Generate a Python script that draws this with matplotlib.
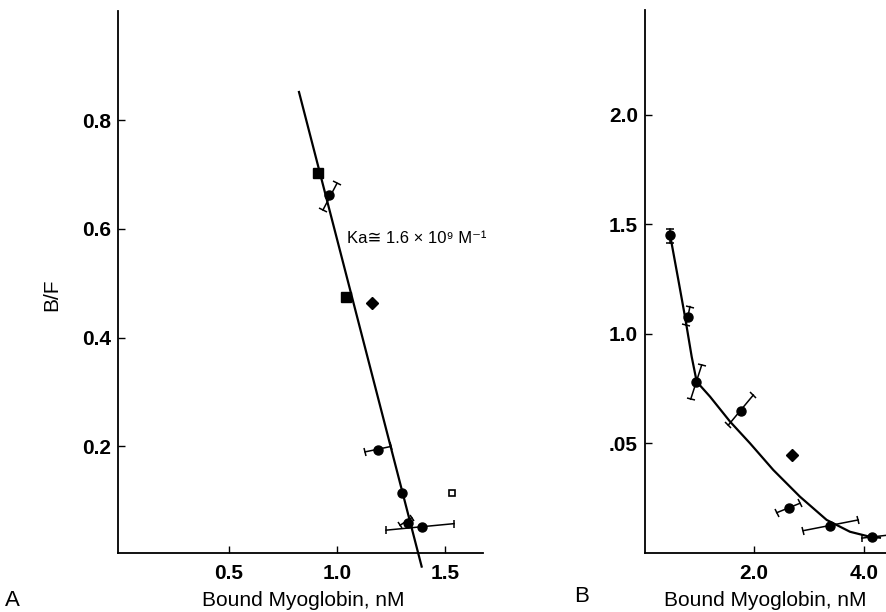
import numpy as np
import matplotlib
matplotlib.use('Agg')
import matplotlib.pyplot as plt
from matplotlib.markers import MarkerStyle
from matplotlib.transforms import Affine2D

plt.rcParams['font.family'] = ['Liberation Sans', 'DejaVu Sans']

# ---- Panel A data (Scatchard plot) ----
a_sq_x = [0.912, 1.042]
a_sq_y = [0.703, 0.475]
a_dia_x = [1.160]
a_dia_y = [0.463]
a_circ_x = [0.964, 1.191, 1.299, 1.327, 1.392]
a_circ_y = [0.662, 0.194, 0.115, 0.059, 0.052]
a_open_x = [1.531]
a_open_y = [0.115]
# error bar end points (x_lo, y_lo, x_hi, y_hi)
a_err_x_lo = [0.935, 1.130, 1.292, 1.227]
a_err_y_lo = [0.635, 0.190, 0.055, 0.046]
a_err_x_hi = [1.000, 1.250, 1.346, 1.542]
a_err_y_hi = [0.684, 0.200, 0.069, 0.058]
a_fit_x = [0.824, 1.392]
a_fit_y = [0.852, -0.021]
a_xticks = [0.5, 1.0, 1.5]
a_xticklabels = ['0.5', '1.0', '1.5']
a_yticks = [0.2, 0.4, 0.6, 0.8]
a_yticklabels = ['0.2', '0.4', '0.6', '0.8']

# ---- Panel B data ----
b_circ_x = [0.473, 0.806, 0.945, 1.764, 2.636, 3.382, 4.14]
b_circ_y = [1.452, 1.076, 0.782, 0.650, 0.207, 0.125, 0.075]
b_dia_x = [2.697]
b_dia_y = [0.447]
b_err_x_lo = [0.473, 0.764, 0.849, 1.533, 2.413, 2.896, 3.96]
b_err_y_lo = [1.416, 1.041, 0.702, 0.584, 0.184, 0.102, 0.068]
b_err_x_hi = [0.473, 0.836, 1.049, 1.987, 2.836, 3.896, 4.45]
b_err_y_hi = [1.479, 1.125, 0.858, 0.721, 0.227, 0.151, 0.082]
b_curve_x = [0.473, 0.491, 0.624, 0.745, 0.867, 0.958, 1.2, 1.564, 1.927,
             2.351, 2.836, 3.321, 3.745, 4.109, 4.29]
b_curve_y = [1.452, 1.429, 1.247, 1.079, 0.896, 0.782, 0.714, 0.600, 0.501,
             0.379, 0.257, 0.151, 0.097, 0.074, 0.070]
b_xticks = [2.0, 4.0]
b_xticklabels = ['2.0', '4.0']
b_yticks = [0.5, 1.0, 1.5, 2.0]
b_yticklabels = ['.05', '1.0', '1.5', '2.0']

W, H = 886, 612
fig = plt.figure(figsize=(W / 100, H / 100), dpi=100)
axA = fig.add_axes([118 / W, 59 / H, 365 / W, 542 / H])
axB = fig.add_axes([645 / W, 59 / H, 241 / W, 543 / H])


def style_axes(ax, xlim, ylim, xt, xtl, yt, ytl):
    ax.set_xlim(*xlim)
    ax.set_ylim(*ylim)
    for s in ['top', 'right']:
        ax.spines[s].set_visible(False)
    for s in ['left', 'bottom']:
        ax.spines[s].set_linewidth(1.3)
    ax.set_xticks(xt)
    ax.set_xticklabels(xtl)
    ax.set_yticks(yt)
    ax.set_yticklabels(ytl)
    ax.tick_params(axis='both', direction='in', length=5, width=1.0,
                   labelsize=15)
    ax.tick_params(axis='x', pad=8)
    ax.tick_params(axis='y', pad=5)
    for lab in ax.get_xticklabels() + ax.get_yticklabels():
        lab.set_fontweight('bold')


def err_bars(ax, xl, yl, xh, yh):
    for x0, y0, x1, y1 in zip(xl, yl, xh, yh):
        ax.plot([x0, x1], [y0, y1], color='black', lw=1.1)
        p0 = ax.transData.transform((x0, y0))
        p1 = ax.transData.transform((x1, y1))
        ang = np.degrees(np.arctan2(p1[1] - p0[1], p1[0] - p0[0]))
        cap = MarkerStyle('|', transform=Affine2D().rotate_deg(ang))
        ax.plot([x0, x1], [y0, y1], linestyle='none', marker=cap,
                markersize=6, mew=1.1, color='black')


# Panel A
style_axes(axA, (-0.014, 1.676), (0.004, 1.001),
           a_xticks, a_xticklabels, a_yticks, a_yticklabels)
axA.plot(a_fit_x, a_fit_y, color='black', lw=1.6, clip_on=False)
err_bars(axA, a_err_x_lo, a_err_y_lo, a_err_x_hi, a_err_y_hi)
axA.plot(a_sq_x, a_sq_y, 's', color='black', ms=6.5)
axA.plot(a_dia_x, a_dia_y, 'D', color='black', ms=6)
axA.plot(a_circ_x, a_circ_y, 'o', color='black', ms=6.5)
axA.plot(a_open_x, a_open_y, 's', mfc='white', mec='black', mew=1.2, ms=5)
axA.text(1.045, 0.583, 'Ka\u2245 1.6 \u00d7 10\u2079 M\u207b\u00b9', fontsize=12,
         va='center', ha='left', family=['Liberation Sans', 'DejaVu Sans'])

# Panel B
style_axes(axB, (0.018, 4.4), (0.0, 2.479),
           b_xticks, b_xticklabels, b_yticks, b_yticklabels)
axB.plot(b_curve_x, b_curve_y, color='black', lw=1.6)
err_bars(axB, b_err_x_lo, b_err_y_lo, b_err_x_hi, b_err_y_hi)
axB.plot(b_circ_x, b_circ_y, 'o', color='black', ms=6.5)
axB.plot(b_dia_x, b_dia_y, 'D', color='black', ms=6)

# labels
fig.text(52 / W, 1 - 295 / H, 'B/F', rotation=90, fontsize=15,
         ha='center', va='center')
fig.text(303 / W, 1 - 601 / H, 'Bound Myoglobin, nM', fontsize=15,
         ha='center', va='center')
fig.text(765 / W, 1 - 601 / H, 'Bound Myoglobin, nM', fontsize=15,
         ha='center', va='center')
fig.text(12 / W, 1 - 600 / H, 'A', fontsize=16, ha='center', va='center')
fig.text(582 / W, 1 - 596 / H, 'B', fontsize=16, ha='center', va='center')

fig.savefig('out.png', dpi=100)
